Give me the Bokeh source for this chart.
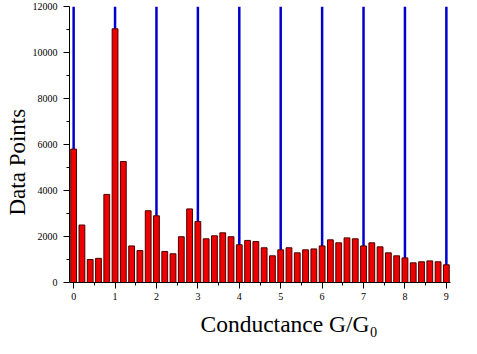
from bokeh.plotting import figure
from bokeh.models import Range1d, FixedTicker, Title, ColumnDataSource
from bokeh.embed import file_html
from bokeh.resources import INLINE

# Histogram bin centres (G/G0) and counts
conductance = [round(0.2 * i, 1) for i in range(46)]
counts = [5800, 2500, 1000, 1050, 3830, 11030, 5260, 1590, 1390, 3120,
          2900, 1350, 1250, 1990, 3200, 2650, 1900, 2030, 2160, 1990,
          1640, 1830, 1780, 1510, 1160, 1420, 1510, 1290, 1420, 1460,
          1590, 1855, 1725, 1940, 1900, 1590, 1725, 1550, 1290, 1160,
          1070, 855, 900, 940, 900, 770]
quantum_lines = [0, 1, 2, 3, 4, 5, 6, 7, 8, 9]
x_ticks = [0, 1, 2, 3, 4, 5, 6, 7, 8, 9]
y_ticks = [0, 2000, 4000, 6000, 8000, 10000, 12000]

p = figure(width=477, height=354, output_backend="svg", toolbar_location=None,
           x_range=Range1d(-0.1, 9.1), y_range=Range1d(0, 12000),
           min_border_left=69, min_border_right=27, min_border_top=6,
           min_border_bottom=72)
p.outline_line_color = None
p.xgrid.visible = False
p.ygrid.visible = False
p.background_fill_color = "white"
p.border_fill_color = "white"

p.segment(x0=quantum_lines, y0=[0] * len(quantum_lines), x1=quantum_lines,
          y1=[12000] * len(quantum_lines), line_color="#0000cc", line_width=2.5)

src = ColumnDataSource(dict(x=conductance, top=counts))
p.vbar(x="x", top="top", width=0.14, bottom=0, source=src,
       fill_color="#ee0000", line_color="#4a0000", line_width=1)

font = "Liberation Serif"
for ax in (p.xaxis[0], p.yaxis[0]):
    ax.axis_line_color = "black"
    ax.major_tick_line_color = "black"
    ax.minor_tick_line_color = "black"
    ax.major_label_text_font = font
    ax.major_label_text_font_size = "10px"
    ax.major_label_text_color = "black"

p.xaxis.ticker = FixedTicker(ticks=x_ticks, minor_ticks=[i + 0.5 for i in range(9)])
p.xaxis.major_tick_out = 6
p.xaxis.major_tick_in = 0
p.xaxis.minor_tick_out = 3
p.xaxis.minor_tick_in = 0
p.xaxis.major_label_standoff = 4

p.yaxis.ticker = FixedTicker(ticks=y_ticks, minor_ticks=list(range(1000, 12000, 2000)))
p.yaxis.major_tick_out = 6
p.yaxis.major_tick_in = 0
p.yaxis.minor_tick_out = 3
p.yaxis.minor_tick_in = 0
p.yaxis.major_label_standoff = 6

p.add_layout(Title(text="Data Points", align="left", offset=67,
                   text_font=font, text_font_size="23px", text_font_style="normal",
                   text_color="black", standoff=0), "left")
p.add_layout(Title(text="Conductance G/G\u2080", align="left", offset=131,
                   text_font="Liberation Serif, DejaVu Serif", text_font_size="23.5px",
                   text_font_style="normal", text_color="black", standoff=12), "below")

open("out.html", "w").write(file_html(p, INLINE))
